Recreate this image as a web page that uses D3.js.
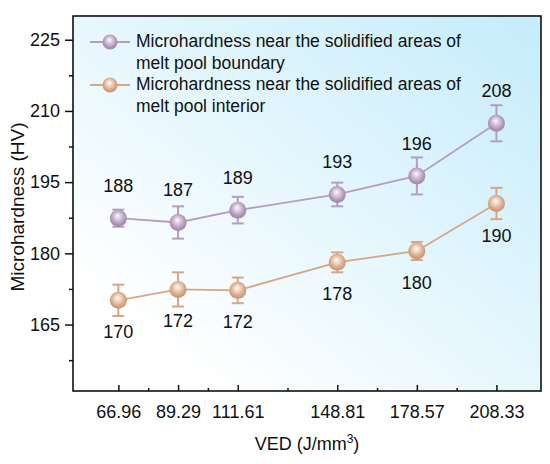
<!DOCTYPE html>
<html>
<head>
<meta charset="utf-8">
<script src="https://cdn.jsdelivr.net/npm/d3@7/dist/d3.min.js"></script>
<style>
  html, body { margin: 0; padding: 0; background: #fff; }
  svg { display: block; font-family: "Liberation Sans", Arial, sans-serif; }
</style>
</head>
<body>
<svg id="chart" width="550" height="464"></svg>
<script>
// ---- data ----
const ved = [66.96, 89.29, 111.61, 148.81, 178.57, 208.33];
const vedTickLabels = ["66.96", "89.29", "111.61", "148.81", "178.57", "208.33"];
const boundary = [187.4, 186.5, 189.1, 192.4, 196.3, 207.4];
const boundaryErr = [1.8, 3.4, 2.8, 2.5, 3.9, 3.8];
const boundaryLabels = ["188", "187", "189", "193", "196", "208"];
const interior = [170.1, 172.4, 172.2, 178.1, 180.5, 190.5];
const interiorErr = [3.3, 3.6, 2.7, 2.1, 1.9, 3.3];
const interiorLabels = ["170", "172", "172", "178", "180", "190"];
const yTicks = [165, 180, 195, 210, 225];
const yMinorTicks = [157.5, 172.5, 187.5, 202.5, 217.5];
const legendLines = [
  ["Microhardness near the solidified areas of", "melt pool boundary"],
  ["Microhardness near the solidified areas of", "melt pool interior"]
];

// ---- layout ----
const L = 73, R = 541, T = 16, B = 391;
const svg = d3.select("#chart");
const x = d3.scaleLinear().domain([50, 225]).range([L, R]);
const y = d3.scaleLinear().domain([151, 230]).range([B, T]);

const defs = svg.append("defs");
const bg = defs.append("linearGradient").attr("id", "bg")
  .attr("x1", "0").attr("y1", "1").attr("x2", "1").attr("y2", "0");
bg.append("stop").attr("offset", "0.15").attr("stop-color", "#ffffff");
bg.append("stop").attr("offset", "1").attr("stop-color", "#c4ecfb");

function sphere(id, light, base, dark) {
  const g = defs.append("radialGradient").attr("id", id)
    .attr("cx", "0.5").attr("cy", "0.45").attr("r", "0.6")
    .attr("fx", "0.45").attr("fy", "0.35");
  g.append("stop").attr("offset", "0").attr("stop-color", "#ffffff");
  g.append("stop").attr("offset", "0.25").attr("stop-color", light);
  g.append("stop").attr("offset", "0.7").attr("stop-color", base);
  g.append("stop").attr("offset", "1").attr("stop-color", dark);
}
sphere("sphP", "#e2d3e6", "#b196ba", "#9a7ba5");
sphere("sphT", "#f3dccd", "#d6a585", "#c08a6b");

const series = [
  { vals: boundary, err: boundaryErr, labels: boundaryLabels, color: "#b59dc0", fill: "url(#sphP)", dy: -26 },
  { vals: interior, err: interiorErr, labels: interiorLabels, color: "#d6a688", fill: "url(#sphT)", dy: 38 }
];

// background
svg.append("rect").attr("x", L).attr("y", T).attr("width", R - L).attr("height", B - T)
  .attr("fill", "url(#bg)");

// axes
const yAxis = d3.axisLeft(y).tickValues(yTicks).tickSize(8).tickPadding(3).tickFormat(d3.format("d"));
const gy = svg.append("g").attr("transform", `translate(${L},0)`).call(yAxis);
gy.select(".domain").remove();
gy.selectAll(".tick line").attr("stroke", "#111").attr("stroke-width", 1.5);
gy.selectAll(".tick text").attr("font-size", 18).attr("fill", "#111").attr("dx", -2);
const gym = svg.append("g").attr("transform", `translate(${L},0)`)
  .call(d3.axisLeft(y).tickValues(yMinorTicks).tickSize(4).tickFormat(""));
gym.select(".domain").remove();
gym.selectAll(".tick line").attr("stroke", "#111").attr("stroke-width", 1.5);

const xAxis = d3.axisBottom(x).tickValues(ved).tickSize(-6).tickPadding(14)
  .tickFormat((d, i) => vedTickLabels[i]);
const gx = svg.append("g").attr("transform", `translate(0,${B})`).call(xAxis);
gx.select(".domain").remove();
gx.selectAll(".tick line").attr("stroke", "#111").attr("stroke-width", 1.5);
gx.selectAll(".tick text").attr("font-size", 18).attr("fill", "#111");
const xMinor = d3.pairs(ved).map(p => (p[0] + p[1]) / 2);
const gxm = svg.append("g").attr("transform", `translate(0,${B})`)
  .call(d3.axisBottom(x).tickValues(xMinor).tickSize(-3).tickFormat(""));
gxm.select(".domain").remove();
gxm.selectAll(".tick line").attr("stroke", "#111").attr("stroke-width", 1.5);

// frame
svg.append("rect").attr("x", L).attr("y", T).attr("width", R - L).attr("height", B - T)
  .attr("fill", "none").attr("stroke", "#111").attr("stroke-width", 1.6);

// axis titles
svg.append("text").attr("x", 307).attr("y", 450).attr("text-anchor", "middle")
  .attr("font-size", 18).attr("fill", "#111")
  .html('VED (J/mm<tspan dy="-7" font-size="12">3</tspan><tspan dy="7">)</tspan>');
svg.append("text").attr("transform", "translate(24,207) rotate(-90)").attr("text-anchor", "middle")
  .attr("font-size", 19).attr("fill", "#111").text("Microhardness (HV)");

// series
const line = d3.line().x((d, i) => x(ved[i])).y(d => y(d));
series.forEach(s => {
  svg.append("path").datum(s.vals).attr("d", line).attr("fill", "none")
    .attr("stroke", s.color).attr("stroke-width", 1.8);
  const eb = svg.append("g");
  s.vals.forEach((v, i) => {
    const cx = x(ved[i]), y1 = y(v + s.err[i]), y2 = y(v - s.err[i]);
    eb.append("line").attr("x1", cx).attr("x2", cx).attr("y1", y1).attr("y2", y2);
    eb.append("line").attr("x1", cx - 6).attr("x2", cx + 6).attr("y1", y1).attr("y2", y1);
    eb.append("line").attr("x1", cx - 6).attr("x2", cx + 6).attr("y1", y2).attr("y2", y2);
  });
  eb.selectAll("line").attr("stroke", s.color).attr("stroke-width", 2);
  svg.append("g").selectAll("circle").data(s.vals).join("circle")
    .attr("cx", (d, i) => x(ved[i])).attr("cy", d => y(d)).attr("r", 8.5)
    .attr("fill", s.fill);
  svg.append("g").selectAll("text").data(s.vals).join("text")
    .attr("x", (d, i) => x(ved[i])).attr("y", d => y(d) + s.dy)
    .attr("text-anchor", "middle").attr("font-size", 18).attr("fill", "#111")
    .text((d, i) => s.labels[i]);
});

// legend
const legY = [42, 85];
series.forEach((s, k) => {
  svg.append("line").attr("x1", 90).attr("x2", 130).attr("y1", legY[k]).attr("y2", legY[k])
    .attr("stroke", s.color).attr("stroke-width", 1.8);
  svg.append("circle").attr("cx", 110).attr("cy", legY[k]).attr("r", 7.5).attr("fill", s.fill);
  legendLines[k].forEach((t, j) => {
    svg.append("text").attr("x", 136).attr("y", legY[k] + 5 + j * 21.5)
      .attr("font-size", 17.5).attr("fill", "#111").text(t);
  });
});
</script>
</body>
</html>
